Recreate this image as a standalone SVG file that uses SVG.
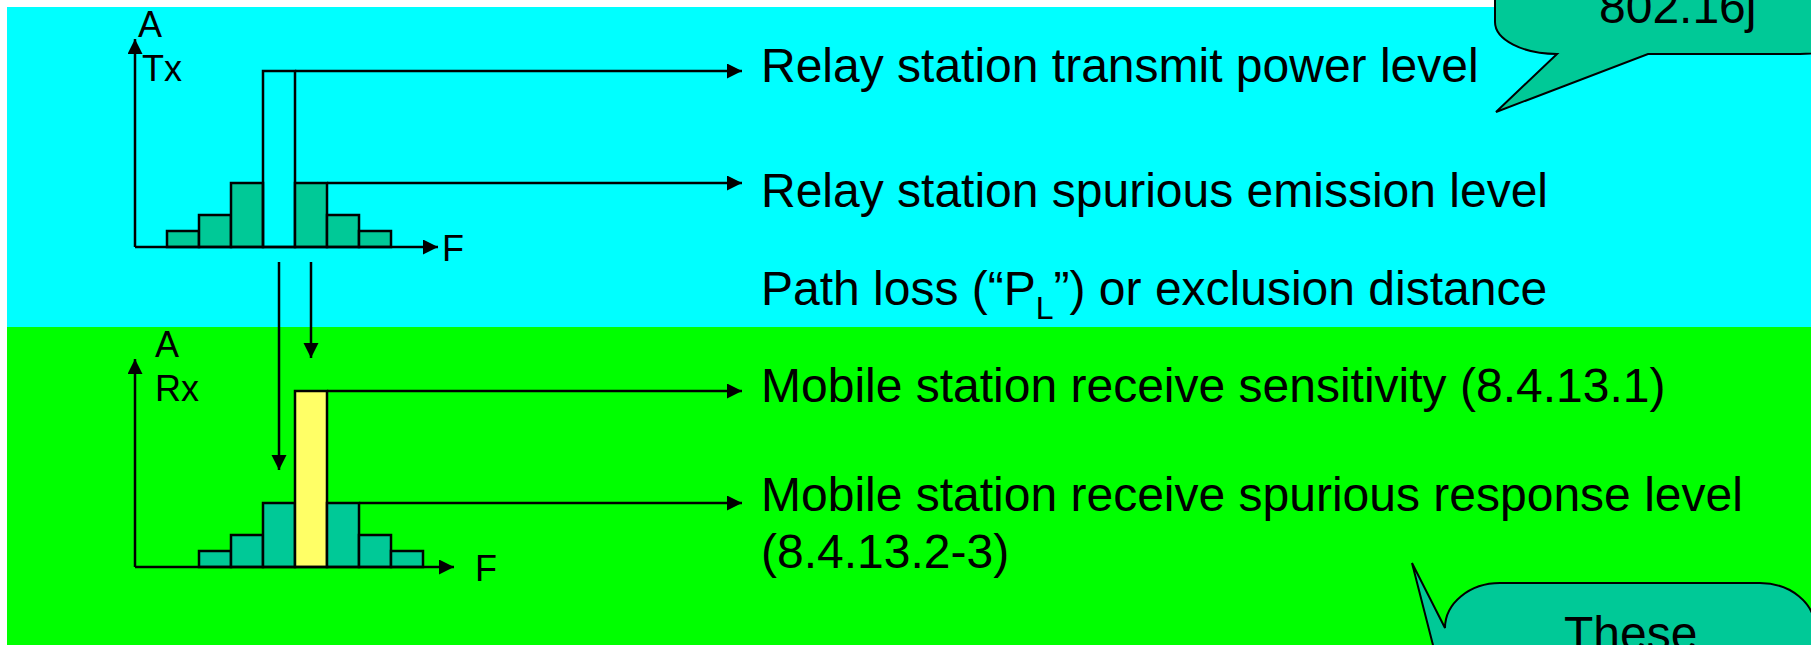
<svg xmlns="http://www.w3.org/2000/svg" width="1811" height="645" viewBox="0 0 1811 645">
  <style>
    .lbl { font-family: "Liberation Sans", Arial, sans-serif; font-size: 48px; fill: #000; }
    .axl { font-family: "Liberation Sans", Arial, sans-serif; font-size: 36px; fill: #000; }
    .ln { stroke: #000; stroke-width: 2.5; fill: none; }
    .bar { fill: #00C997; stroke: #000; stroke-width: 2.5; }
    .bubble { fill: #00C997; stroke: #000; stroke-width: 2; }
  </style>
  <defs>
    <marker id="arrow" markerUnits="userSpaceOnUse" markerWidth="16" markerHeight="16" refX="15" refY="7.5" orient="auto">
      <path d="M0,0 L15,7.5 L0,15 Z" fill="#000"/>
    </marker>
  </defs>

  <!-- page and the two bands -->
  <rect x="0" y="0" width="1811" height="645" fill="#FFFFFF"/>
  <rect x="7" y="7" width="1804" height="320" fill="#00FFFF"/>
  <rect x="7" y="327" width="1804" height="318" fill="#00FF00"/>

  <!-- transmitter spectrum -->
  <g id="tx-spectrum">
    <rect class="bar" x="167" y="231" width="32" height="16"/>
    <rect class="bar" x="199" y="215" width="32" height="32"/>
    <rect class="bar" x="231" y="183" width="32" height="64"/>
    <rect class="ln" x="263" y="71" width="32" height="176"/>
    <rect class="bar" x="295" y="183" width="32" height="64"/>
    <rect class="bar" x="327" y="215" width="32" height="32"/>
    <rect class="bar" x="359" y="231" width="32" height="16"/>
    <line class="ln" x1="135" y1="247" x2="135" y2="39" marker-end="url(#arrow)"/>
    <line class="ln" x1="135" y1="247" x2="438" y2="247" marker-end="url(#arrow)"/>
    <text class="axl" x="138" y="37">A</text>
    <text class="axl" x="142" y="81">Tx</text>
    <text class="axl" x="442" y="261">F</text>
  </g>

  <!-- receiver spectrum -->
  <g id="rx-spectrum">
    <rect class="bar" x="199" y="551" width="32" height="16"/>
    <rect class="bar" x="231" y="535" width="32" height="32"/>
    <rect class="bar" x="263" y="503" width="32" height="64"/>
    <rect x="295" y="391" width="32" height="176" fill="#FFFF66" stroke="#000" stroke-width="2.5"/>
    <rect class="bar" x="327" y="503" width="32" height="64"/>
    <rect class="bar" x="359" y="535" width="32" height="32"/>
    <rect class="bar" x="391" y="551" width="32" height="16"/>
    <line class="ln" x1="135" y1="567" x2="135" y2="359" marker-end="url(#arrow)"/>
    <line class="ln" x1="135" y1="567" x2="454" y2="567" marker-end="url(#arrow)"/>
    <text class="axl" x="155" y="357">A</text>
    <text class="axl" x="155" y="401">Rx</text>
    <text class="axl" x="475" y="581">F</text>
  </g>

  <!-- connectors -->
  <g id="connectors">
    <line class="ln" x1="295" y1="71" x2="742" y2="71" marker-end="url(#arrow)"/>
    <line class="ln" x1="327" y1="183" x2="742" y2="183" marker-end="url(#arrow)"/>
    <line class="ln" x1="327" y1="391" x2="742" y2="391" marker-end="url(#arrow)"/>
    <line class="ln" x1="359" y1="503" x2="742" y2="503" marker-end="url(#arrow)"/>
    <line class="ln" x1="279" y1="262" x2="279" y2="470" marker-end="url(#arrow)"/>
    <line class="ln" x1="311" y1="262" x2="311" y2="358" marker-end="url(#arrow)"/>
  </g>

  <!-- labels -->
  <g id="label-tx-power"><text class="lbl" x="761" y="82">Relay station transmit power level</text></g>
  <g id="label-tx-spurious"><text class="lbl" x="761" y="207">Relay station spurious emission level</text></g>
  <g id="label-path-loss"><text class="lbl" x="761" y="305">Path loss (“P<tspan font-size="32" dy="14">L</tspan><tspan dy="-14">”) or exclusion distance</tspan></text></g>
  <g id="label-rx-sensitivity"><text class="lbl" x="761" y="402">Mobile station receive sensitivity (8.4.13.1)</text></g>
  <g id="label-rx-spurious">
    <text class="lbl" x="761" y="511">Mobile station receive spurious response level</text>
    <text class="lbl" x="761" y="568">(8.4.13.2-3)</text>
  </g>

  <!-- callouts -->
  <g id="callout-top">
    <path class="bubble" d="M1496,112 L1557,54 A62,32 0 0 1 1495,22 L1495,-60 L1860,-60 L1860,22 A60,32 0 0 1 1800,54 L1648,54 Z"/>
    <text class="lbl" x="1599" y="23">802.16j</text>
  </g>
  <g id="callout-bottom">
    <path class="bubble" d="M1412,563 L1445,628 A55,45 0 0 1 1500,583 L1760,583 A55,45 0 0 1 1815,628 L1815,700 L1445,700 L1445,692 Z"/>
    <text class="lbl" x="1564" y="650">These</text>
  </g>
</svg>
